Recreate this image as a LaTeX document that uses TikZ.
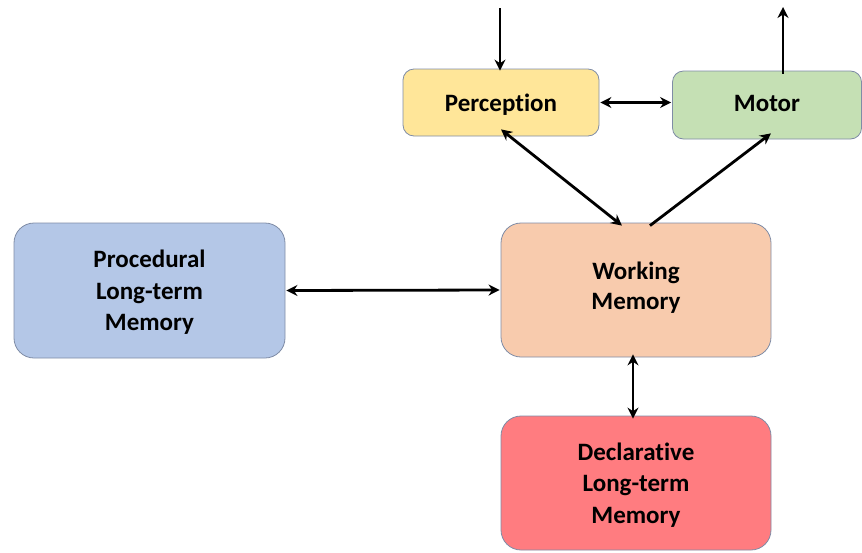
\documentclass[tikz,border=0pt]{standalone}
\usepackage{fontspec}
\setmainfont{Carlito}[Ligatures=NoCommon]
\usetikzlibrary{arrows.meta}
\definecolor{percc}{HTML}{FFE699}
\definecolor{motorc}{HTML}{C5E0B4}
\definecolor{procc}{HTML}{B4C7E7}
\definecolor{wmc}{HTML}{F8CBAD}
\definecolor{declc}{HTML}{FF7C80}
\definecolor{edgec}{HTML}{7F8CA6}
\tikzset{
  box/.style={draw=edgec, line width=0.8pt, inner sep=0pt},
  smallbox/.style={box, rounded corners=11pt},
  bigbox/.style={box, rounded corners=20pt},
  lbl/.style={align=center, inner sep=0pt, font=\fontsize{25}{31.5}\selectfont\bfseries},
  conn/.style={line width=2.8pt, -{Stealth[length=11pt,width=11pt]}},
  dconn/.style={line width=2.8pt, {Stealth[length=11pt,width=11pt]}-{Stealth[length=11pt,width=11pt]}}
}
\begin{document}
\begin{tikzpicture}[x=1pt,y=-1pt]
\useasboundingbox (0,0) rectangle (862,552);
\node[smallbox, fill=percc, minimum width=196pt, minimum height=67pt] (perc) at (501,102.5) {};
\node[smallbox, fill=motorc, minimum width=189pt, minimum height=68pt] (motor) at (767,105) {};
\node[bigbox, fill=procc, minimum width=271pt, minimum height=135pt] (proc) at (149.5,290.5) {};
\node[bigbox, fill=wmc, minimum width=270pt, minimum height=134pt] (wm) at (636,290) {};
\node[bigbox, fill=declc, minimum width=270pt, minimum height=134pt] (decl) at (636,483) {};
\node[lbl] (percT) at ([yshift=-2pt]perc.center) {Perception};
\node[lbl] (motorT) at ([yshift=2pt]motor.center) {Motor};
\node[lbl] (procT) at ([yshift=-2pt]proc.center) {Procedural\\Long-term\\Memory};
\node[lbl, font=\fontsize{25}{30.5}\selectfont\bfseries] (wmT) at ([yshift=2.5pt]wm.center) {Working\\Memory};
\node[lbl] (declT) at ([yshift=-2pt]decl.center) {Declarative\\Long-term\\Memory};
\coordinate (in) at (500,8);
\coordinate (out) at (783,7);
\draw[conn] (in) -- ([yshift=-2pt]perc.north -| in);
\draw[conn] ([yshift=-3pt]motor.north -| out) -- (out);
\draw[dconn] ([xshift=1pt]perc.east) -- ([xshift=-1pt]perc.east -| motor.west);
\draw[dconn] ([yshift=7pt]perc.south) -- ([xshift=-14pt,yshift=-3pt]wm.north);
\draw[conn] ([xshift=14pt,yshift=-3pt]wm.north) -- ([xshift=4pt,yshift=6pt]motor.south);
\draw[dconn] ([xshift=1pt]proc.east) -- ([xshift=-1pt]wm.west);
\draw[dconn] ([xshift=-3pt,yshift=3pt]wm.south) -- ([xshift=-3pt,yshift=-3pt]decl.north);
\end{tikzpicture}
\end{document}
